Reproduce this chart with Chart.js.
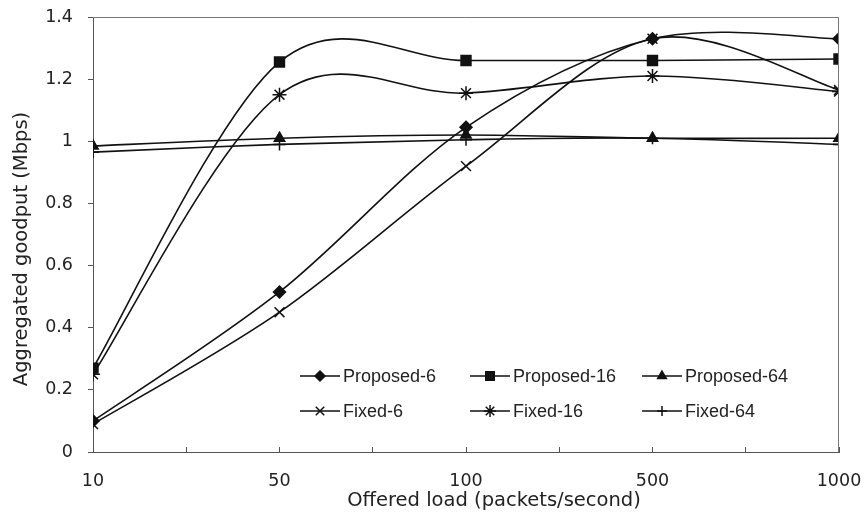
<!DOCTYPE html>
<html>
<head>
<meta charset="utf-8">
<script src="https://cdn.jsdelivr.net/npm/chart.js@4.4.0/dist/chart.umd.min.js"></script>
<style>
  html, body { margin: 0; padding: 0; background: #fff; }
  #wrap { width: 868px; height: 519px; }
</style>
</head>
<body>
<div id="wrap"><canvas id="myChart"></canvas></div>
<script>
// offered load categories (equally spaced on the axis)
const categories = ['10', '50', '100', '500', '1000'];

// aggregated goodput in Mbps
const proposed6  = [0.10, 0.515, 1.045, 1.33, 1.33];
const proposed16 = [0.27, 1.255, 1.26, 1.26, 1.265];
const proposed64 = [0.985, 1.01, 1.02, 1.01, 1.01];
const fixed6     = [0.09, 0.45, 0.92, 1.33, 1.165];
const fixed16    = [0.25, 1.15, 1.155, 1.21, 1.16];
const fixed64    = [0.965, 0.99, 1.005, 1.01, 0.99];

const yTicks = [0, 0.2, 0.4, 0.6, 0.8, 1, 1.2, 1.4];

const xTitle = 'Offered load (packets/second)';
const yTitle = 'Aggregated goodput (Mbps)';

const SANS = "'Liberation Sans', Arial, sans-serif";
const WIDE = "'DejaVu Sans', sans-serif";
const INK = '#111';

function series(label, values, style, radius) {
  return {
    label: label,
    data: values.map((v, i) => ({ x: i, y: v })),
    borderColor: INK,
    backgroundColor: INK,
    borderWidth: 1.6,
    pointStyle: style,
    pointRadius: radius,
    pointHoverRadius: radius,
    pointBorderWidth: 1.5,
    tension: 0.4
  };
}

const datasets = [
  series('Proposed-6', proposed6, 'rectRot', 6),
  series('Proposed-16', proposed16, 'rect', 7),
  series('Proposed-64', proposed64, 'triangle', 6),
  series('Fixed-6', fixed6, 'crossRot', 7),
  series('Fixed-16', fixed16, 'star', 7),
  series('Fixed-64', fixed64, 'cross', 6)
];

// Excel-like smoothing: uniform Catmull-Rom tangents instead of the
// distance-weighted ones chart.js computes
const excelSmooth = {
  id: 'excelSmooth',
  beforeDatasetDraw(chart, args) {
    const meta = args.meta;
    meta.dataset.updateControlPoints(chart.chartArea, 'x');
    const pts = meta.data;
    for (let i = 0; i < pts.length; i++) {
      const p = pts[i];
      const prev = pts[i - 1] || p;
      const next = pts[i + 1] || p;
      const dx = (next.x - prev.x) / 6;
      const dy = (next.y - prev.y) / 6;
      p.cp1x = p.x - dx; p.cp1y = p.y - dy;
      p.cp2x = p.x + dx; p.cp2y = p.y + dy;
    }
  }
};

// box round the plot area + axis titles
const frame = {
  id: 'frame',
  afterDraw(chart) {
    const a = chart.chartArea, ctx = chart.ctx;
    ctx.save();
    ctx.strokeStyle = '#777';
    ctx.lineWidth = 1;
    ctx.beginPath();
    ctx.moveTo(a.left, a.top + 0.5);
    ctx.lineTo(a.right - 0.5, a.top + 0.5);
    ctx.lineTo(a.right - 0.5, a.bottom);
    ctx.stroke();

    ctx.fillStyle = '#222';
    ctx.font = '19.5px ' + WIDE;
    ctx.textAlign = 'center';
    ctx.textBaseline = 'middle';
    ctx.fillText(xTitle, 494, 501);
    ctx.translate(22, 249);
    ctx.rotate(-Math.PI / 2);
    ctx.fillText(yTitle, 0, 0);
    ctx.restore();
  }
};

// legend drawn inside the plot, 3 columns x 2 rows
const innerLegend = {
  id: 'innerLegend',
  afterDatasetsDraw(chart) {
    const a = chart.chartArea, ctx = chart.ctx;
    const colX = [207, 377, 549];
    const rowY = [359, 394];
    ctx.save();
    chart.data.datasets.forEach((ds, i) => {
      const x0 = a.left + colX[i % 3];
      const y = a.top + rowY[Math.floor(i / 3)];
      ctx.strokeStyle = INK;
      ctx.fillStyle = INK;
      ctx.lineWidth = 1.6;
      ctx.beginPath();
      ctx.moveTo(x0, y);
      ctx.lineTo(x0 + 40, y);
      ctx.stroke();
      ctx.lineWidth = 1.5;
      Chart.helpers.drawPoint(ctx, {
        pointStyle: ds.pointStyle,
        radius: ds.pointRadius - 1,
        rotation: 0,
        borderWidth: 1.5
      }, x0 + 20, y);
      ctx.fillStyle = '#222';
      ctx.font = '18px ' + SANS;
      ctx.textAlign = 'left';
      ctx.textBaseline = 'middle';
      ctx.fillText(ds.label, x0 + 43, y + 1);
    });
    ctx.restore();
  }
};

new Chart(document.getElementById('myChart'), {
  type: 'line',
  data: { datasets: datasets },
  plugins: [excelSmooth, frame, innerLegend],
  options: {
    responsive: true,
    maintainAspectRatio: false,
    animation: false,
    devicePixelRatio: 1,
    layout: { padding: { top: 17, right: 29, left: 0, bottom: 0 } },
    plugins: {
      legend: { display: false },
      tooltip: { enabled: false }
    },
    scales: {
      x: {
        type: 'linear',
        min: 0,
        max: 4,
        afterFit(scale) {
          scale.height = 67;
          scale.paddingLeft = 0;
          scale.paddingRight = 0;
        },
        ticks: {
          stepSize: 0.5,
          autoSkip: false,
          maxRotation: 0,
          padding: 24,
          color: '#222',
          font: { family: WIDE, size: 17.5 },
          callback: v => Number.isInteger(v) ? categories[v] : ''
        },
        grid: { drawOnChartArea: false, tickLength: -5, color: '#555' },
        border: { color: '#555', width: 1 }
      },
      y: {
        min: 0,
        max: 1.4,
        afterFit(scale) {
          scale.width = 93;
          scale.paddingTop = 0;
          scale.paddingBottom = 0;
        },
        afterBuildTicks(scale) { scale.ticks = yTicks.map(v => ({ value: v })); },
        ticks: {
          padding: 15,
          color: '#222',
          font: { family: WIDE, size: 17.5 },
          callback: v => String(Math.round(v * 10) / 10)
        },
        grid: { drawOnChartArea: false, tickLength: 5, color: '#555' },
        border: { color: '#555', width: 1 }
      }
    }
  }
});
</script>
</body>
</html>
